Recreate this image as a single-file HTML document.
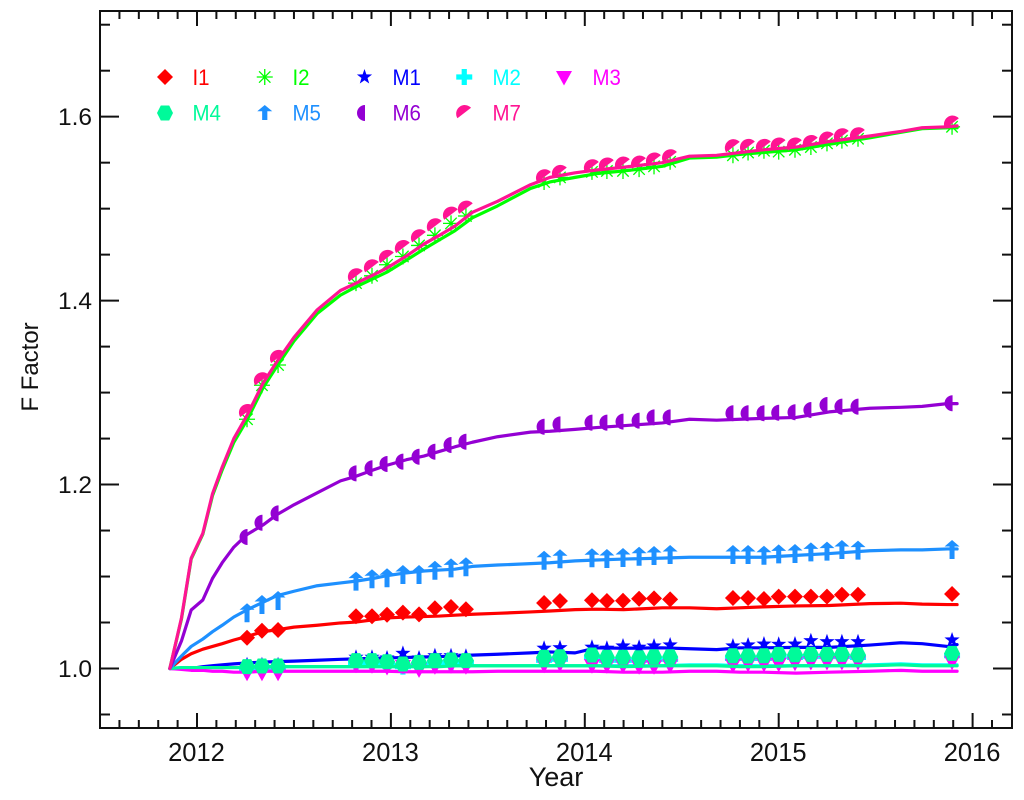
<!DOCTYPE html>
<html>
<head>
<meta charset="utf-8">
<title>F Factor vs Year</title>
<style>
html,body{margin:0;padding:0;background:#fff;}
svg{display:block;font-family:"Liberation Sans",sans-serif;}
</style>
</head>
<body>
<svg id="chart" width="1024" height="800" viewBox="0 0 1024 800" xmlns="http://www.w3.org/2000/svg">
<rect x="0" y="0" width="1024" height="800" fill="#fff"/>
<g id="series"></g>
<g id="axes"></g>
<text x="556" y="786" font-size="27" text-anchor="middle" fill="#111">Year</text>
<text transform="translate(38,367) rotate(-90)" font-size="24" text-anchor="middle" fill="#111">F Factor</text>
<g id="legend"></g>
</svg>
<script>
const lineYears = [2011.86,2011.92,2011.97,2012.03,2012.08,2012.13,2012.19,2012.26,2012.34,2012.41,2012.5,2012.62,2012.74,2012.82,2012.91,2012.98,2013.08,2013.17,2013.25,2013.33,2013.42,2013.55,2013.72,2013.82,2013.95,2014.06,2014.2,2014.4,2014.54,2014.68,2014.8,2014.92,2015.09,2015.26,2015.47,2015.63,2015.74,2015.87,2015.92];
const markerYears = [2012.258,2012.335,2012.418,2012.82,2012.9025,2012.98,2013.062,2013.145,2013.227,2013.31,2013.387,2013.79,2013.872,2014.037,2014.114,2014.197,2014.28,2014.357,2014.44,2014.764,2014.842,2014.924,2015.0,2015.084,2015.166,2015.249,2015.326,2015.409,2015.894];

const lineI1 = [1.000,1.010,1.016,1.021,1.024,1.027,1.031,1.035,1.040,1.042,1.045,1.047,1.0495,1.0505,1.053,1.055,1.056,1.0565,1.057,1.058,1.059,1.060,1.0615,1.0625,1.064,1.0645,1.064,1.066,1.066,1.065,1.066,1.067,1.068,1.0685,1.0705,1.071,1.070,1.0695,1.0695];
const lineI2 = [1.000,1.054,1.119,1.146,1.188,1.216,1.246,1.271,1.305,1.328,1.356,1.386,1.406,1.415,1.424,1.431,1.444,1.456,1.466,1.476,1.490,1.503,1.522,1.529,1.534,1.538,1.541,1.546,1.555,1.556,1.559,1.561,1.564,1.570,1.577,1.583,1.587,1.588,1.588];
const lineM1 = [1.000,1.000,1.000,1.002,1.003,1.004,1.005,1.006,1.007,1.0075,1.008,1.009,1.010,1.0105,1.011,1.0115,1.012,1.0125,1.013,1.0135,1.0145,1.0155,1.017,1.018,1.017,1.0225,1.022,1.0225,1.0215,1.0205,1.0225,1.0225,1.023,1.023,1.0255,1.028,1.027,1.024,1.026];
const lineM2 = [1.000,1.001,1.001,1.001,1.001,1.001,1.001,1.001,1.002,1.002,1.002,1.002,1.002,1.002,1.002,1.002,1.002,1.002,1.003,1.003,1.003,1.003,1.003,1.003,1.003,1.003,1.003,1.003,1.004,1.004,1.003,1.003,1.003,1.003,1.004,1.005,1.004,1.004,1.004];
const lineM3 = [1.000,0.999,0.998,0.998,0.997,0.997,0.996,0.996,0.997,0.997,0.997,0.997,0.997,0.997,0.997,0.997,0.9965,0.9965,0.9965,0.9965,0.9965,0.997,0.997,0.997,0.997,0.997,0.996,0.996,0.997,0.997,0.996,0.996,0.995,0.996,0.997,0.998,0.997,0.997,0.997];
const lineM4 = [1.000,1.001,1.001,1.001,1.001,1.001,1.001,1.001,1.002,1.002,1.002,1.002,1.002,1.002,1.002,1.002,1.002,1.002,1.002,1.003,1.003,1.003,1.003,1.003,1.003,1.003,1.002,1.003,1.003,1.003,1.002,1.002,1.003,1.003,1.003,1.004,1.003,1.003,1.003];
const lineM5 = [1.000,1.0136,1.024,1.032,1.040,1.047,1.056,1.064,1.072,1.079,1.084,1.090,1.093,1.095,1.098,1.101,1.104,1.106,1.107,1.108,1.111,1.1125,1.114,1.115,1.117,1.118,1.119,1.120,1.121,1.121,1.121,1.121,1.123,1.125,1.128,1.129,1.129,1.130,1.130];
const lineM6 = [1.000,1.030,1.0636,1.0745,1.098,1.115,1.132,1.146,1.156,1.167,1.178,1.191,1.204,1.209,1.216,1.221,1.227,1.231,1.236,1.241,1.246,1.252,1.257,1.258,1.260,1.262,1.264,1.267,1.271,1.270,1.271,1.272,1.273,1.279,1.283,1.284,1.285,1.288,1.288];
const lineM7 = [1.000,1.055,1.120,1.147,1.190,1.219,1.250,1.276,1.310,1.333,1.360,1.390,1.411,1.419,1.428,1.4355,1.4485,1.4615,1.471,1.481,1.496,1.508,1.526,1.534,1.539,1.542,1.545,1.550,1.557,1.558,1.561,1.564,1.567,1.573,1.579,1.584,1.588,1.589,1.590];

const markI1 = [1.0335,1.0411,1.0419,1.0568,1.0568,1.0585,1.0607,1.0589,1.0655,1.0669,1.0644,1.0712,1.0734,1.0742,1.0734,1.0737,1.0759,1.0763,1.0752,1.0767,1.0767,1.0756,1.0781,1.0781,1.0781,1.0781,1.0802,1.0802,1.081];
const markI2 = [1.271,1.308,1.330,1.419,1.427,1.439,1.448,1.460,1.471,1.484,1.492,1.529,1.534,1.540,1.541,1.541,1.543,1.546,1.551,1.558,1.561,1.563,1.562,1.564,1.567,1.571,1.574,1.576,1.589];
const markM1 = [1.0041,1.0041,1.0041,1.0122,1.0122,1.0114,1.0165,1.0114,1.0139,1.0139,1.0133,1.022,1.0226,1.0231,1.022,1.0245,1.0231,1.0245,1.0256,1.0245,1.0256,1.0266,1.0263,1.0266,1.0302,1.0291,1.0291,1.0291,1.031];
const markM2 = [0.999,1.000,1.000,1.006,1.006,1.005,1.002,1.004,1.006,1.006,1.006,1.009,1.010,1.012,1.009,1.009,1.009,1.010,1.010,1.011,1.011,1.011,1.013,1.012,1.013,1.013,1.013,1.012,1.014];
const markM3 = [0.9954,0.9954,0.9954,1.0041,1.0035,1.0016,1.0027,0.9991,1.0024,1.0035,1.0024,1.0041,1.0052,1.0035,1.0035,1.0035,1.0024,1.0024,1.0035,1.0041,1.0052,1.0052,1.0052,1.0063,1.0071,1.0071,1.0071,1.0071,1.0074];
const markM4 = [1.002,1.0027,1.0027,1.0085,1.0085,1.0074,1.0049,1.0067,1.0085,1.0092,1.0085,1.0122,1.0128,1.0147,1.0122,1.0122,1.0117,1.0128,1.0128,1.0139,1.0136,1.0139,1.0154,1.015,1.0154,1.0154,1.0154,1.0147,1.0165];
const markM5 = [1.0622,1.0712,1.0756,1.0966,1.0992,1.1003,1.1038,1.1038,1.1085,1.111,1.1122,1.1194,1.1209,1.122,1.1212,1.1223,1.1237,1.1245,1.1256,1.1256,1.1256,1.1248,1.1263,1.1267,1.1285,1.1292,1.131,1.1303,1.131];
const markM6 = [1.143,1.1585,1.1687,1.2122,1.2177,1.2224,1.2249,1.2303,1.2357,1.243,1.2466,1.2629,1.2655,1.2673,1.2673,1.2684,1.2695,1.2731,1.2731,1.2775,1.2775,1.2775,1.2781,1.2786,1.2811,1.2865,1.2847,1.2847,1.2884];
const markM7 = [1.279,1.3135,1.3378,1.4266,1.4363,1.4465,1.4573,1.469,1.4809,1.4936,1.5001,1.5342,1.5389,1.5451,1.547,1.548,1.5491,1.5524,1.556,1.5669,1.5672,1.5672,1.5687,1.5687,1.5715,1.5752,1.5788,1.5799,1.5926];

const xTickLabels = ["2012","2013","2014","2015","2016"];
const yTickLabels = ["1.0","1.2","1.4","1.6"];

const NS = "http://www.w3.org/2000/svg";
const X0 = 197, XPX = 193.9, Y0 = 668.5, YPX = 919.7;
const LEFT = 100, RIGHT = 1012, TOP = 11, BOTTOM = 728;
function xScale(year){ return X0 + (year - 2012) * XPX; }
function yScale(v){ return Y0 - (v - 1) * YPX; }

function mk(tag, parent){
  const el = document.createElementNS(NS, tag);
  parent.appendChild(el);
  return el;
}

function poly(points){ return "M" + points.map(p => p[0].toFixed(2) + "," + p[1].toFixed(2)).join("L") + "Z"; }

function markerPath(shape){
  if(shape === "diamond") return poly([[0,-8],[8,0],[0,8],[-8,0]]);
  if(shape === "plus") return poly([[-2.6,-8],[2.6,-8],[2.6,-2.6],[8,-2.6],[8,2.6],[2.6,2.6],[2.6,8],[-2.6,8],[-2.6,2.6],[-8,2.6],[-8,-2.6],[-2.6,-2.6]]);
  if(shape === "tri") return poly([[-8,-6],[8,-6],[0,8.5]]);
  if(shape === "hex") return poly([[-8,0],[-4.2,-7.5],[4.2,-7.5],[8,0],[4.2,7.5],[-4.2,7.5]]);
  if(shape === "arrow") return poly([[0,-8],[7.5,-1.5],[2.5,-1.5],[2.5,11],[-2.5,11],[-2.5,-1.5],[-7.5,-1.5]]);
  if(shape === "arrowLegend") return poly([[0,-8],[7.5,-1.8],[2.6,-1.8],[2.6,7],[-2.6,7],[-2.6,-1.8],[-7.5,-1.8]]);
  if(shape === "star"){
    const pts = [];
    for(let i = 0; i < 10; i++){
      const r = i % 2 ? 3.2 : 8, a = -Math.PI / 2 + i * Math.PI / 5;
      pts.push([r * Math.cos(a), r * Math.sin(a)]);
    }
    return poly(pts);
  }
  if(shape === "halfleft") return "M0.5,-8A8,8 0 0 0 0.5,8Z";
  if(shape === "halfdiag") return "M-6.8,5.2A8.6,8.6 0 0 1 6.8,-5.2Z";
  return "";
}

function drawMarker(parent, shape, color, x, y){
  const g = mk("g", parent);
  g.setAttribute("transform", "translate(" + x.toFixed(2) + "," + y.toFixed(2) + ")");
  if(shape === "aster"){
    const p = mk("path", g);
    p.setAttribute("d", "M-8,0H8M0,-8V8M-5.7,-5.7L5.7,5.7M-5.7,5.7L5.7,-5.7");
    p.setAttribute("stroke", color);
    p.setAttribute("stroke-width", "1.3");
    p.setAttribute("fill", "none");
  } else {
    const p = mk("path", g);
    p.setAttribute("d", markerPath(shape));
    p.setAttribute("fill", color);
  }
  return g;
}

const seriesNames = ["I1","I2","M1","M2","M3","M4","M5","M6","M7"];
const seriesColors = ["#ff0000","#00ff00","#0000ff","#00ffff","#ff00ff","#00fa9a","#1e90ff","#9400d3","#ff1493"];
const seriesShapes = ["diamond","aster","star","plus","tri","hex","arrow","halfleft","halfdiag"];
const seriesLines = [lineI1,lineI2,lineM1,lineM2,lineM3,lineM4,lineM5,lineM6,lineM7];
const seriesMarks = [markI1,markI2,markM1,markM2,markM3,markM4,markM5,markM6,markM7];

const seriesLayer = document.getElementById("series");
seriesNames.forEach(function(name, i){
  const g = mk("g", seriesLayer);
  
  
  const marks = mk("g", g);
  
  
  markerYears.forEach(function(yr, j){
    const m = drawMarker(marks, seriesShapes[i], seriesColors[i], xScale(yr), yScale(seriesMarks[i][j]));
    
    
  });
  const line = mk("polyline", g);
  line.setAttribute("points", lineYears.map((yr, j) => xScale(yr).toFixed(2) + "," + yScale(seriesLines[i][j]).toFixed(2)).join(" "));
  line.setAttribute("fill", "none");
  line.setAttribute("stroke", seriesColors[i]);
  line.setAttribute("stroke-width", "3.2");
  line.setAttribute("stroke-linejoin", "round");
  line.setAttribute("stroke-linecap", "round");
  
  
});

const axes = document.getElementById("axes");
const AXIS = "#111";
function seg(x1, y1, x2, y2, name){
  const l = mk("line", axes);
  l.setAttribute("x1", x1);
  l.setAttribute("y1", y1);
  l.setAttribute("x2", x2);
  l.setAttribute("y2", y2);
  l.setAttribute("stroke", AXIS);
  l.setAttribute("stroke-width", "2");
  l.setAttribute("stroke-linecap", "square");
  
  
}
seg(LEFT, BOTTOM, RIGHT, BOTTOM, 'x-axis-bottom');
seg(LEFT, TOP, RIGHT, TOP, 'x-axis-top');
seg(LEFT, TOP, LEFT, BOTTOM, 'y-axis-left');
seg(RIGHT, TOP, RIGHT, BOTTOM, 'y-axis-right');

for(let i = 6; i <= 51; i++){
  const x = xScale(2011 + i * 0.1);
  const major = i % 10 === 0;
  const len = major ? 14 : 7;
  seg(x, BOTTOM, x, BOTTOM - len, major ? 'x-major-tick' : 'x-minor-tick');
  seg(x, TOP, x, TOP + len, major ? 'x-major-tick-top' : 'x-minor-tick-top');
}
for(let i = -1; i <= 14; i++){
  const y = yScale(1 + i * 0.05);
  const major = i >= 0 && i % 4 === 0;
  const len = major ? 18 : 9;
  seg(LEFT, y, LEFT + len, y, major ? 'y-major-tick' : 'y-minor-tick');
  seg(RIGHT, y, RIGHT - len, y, major ? 'y-major-tick-right' : 'y-minor-tick-right');
}
function label(txt, x, y, anchor, size, name){
  const t = mk("text", axes);
  t.textContent = txt;
  t.setAttribute("x", x);
  t.setAttribute("y", y);
  t.setAttribute("text-anchor", anchor);
  t.setAttribute("font-size", size);
  t.setAttribute("fill", "#111");
  
  
}
xTickLabels.forEach(function(s){
  label(s, xScale(parseFloat(s)) - 0.5, 761, "middle", "25.5", 'x-tick-label');
});
yTickLabels.forEach(function(s){
  label(s, 92, yScale(parseFloat(s)) + 8.5, "end", "24.5", 'y-tick-label');
});

const legend = document.getElementById("legend");
seriesNames.forEach(function(name, i){
  const col = i < 5 ? i : i - 5;
  const row = i < 5 ? 0 : 1;
  const mx = 165 + col * 99.75;
  const my = row ? 113 : 77;
  const shape = seriesShapes[i] === "arrow" ? "arrowLegend" : seriesShapes[i];
  const m = drawMarker(legend, shape, seriesColors[i], mx, my);
  
  
  const t = mk("text", legend);
  t.textContent = name;
  t.setAttribute("x", 192.5 + col * 100);
  t.setAttribute("y", row ? 120.5 : 85);
  t.setAttribute("font-size", "22");
  t.setAttribute("fill", seriesColors[i]);
  
  
  const natural = t.getComputedTextLength();
  t.setAttribute("lengthAdjust", "spacingAndGlyphs");
  t.setAttribute("textLength", (natural * 0.93).toFixed(2));
});
</script>
</body>
</html>
